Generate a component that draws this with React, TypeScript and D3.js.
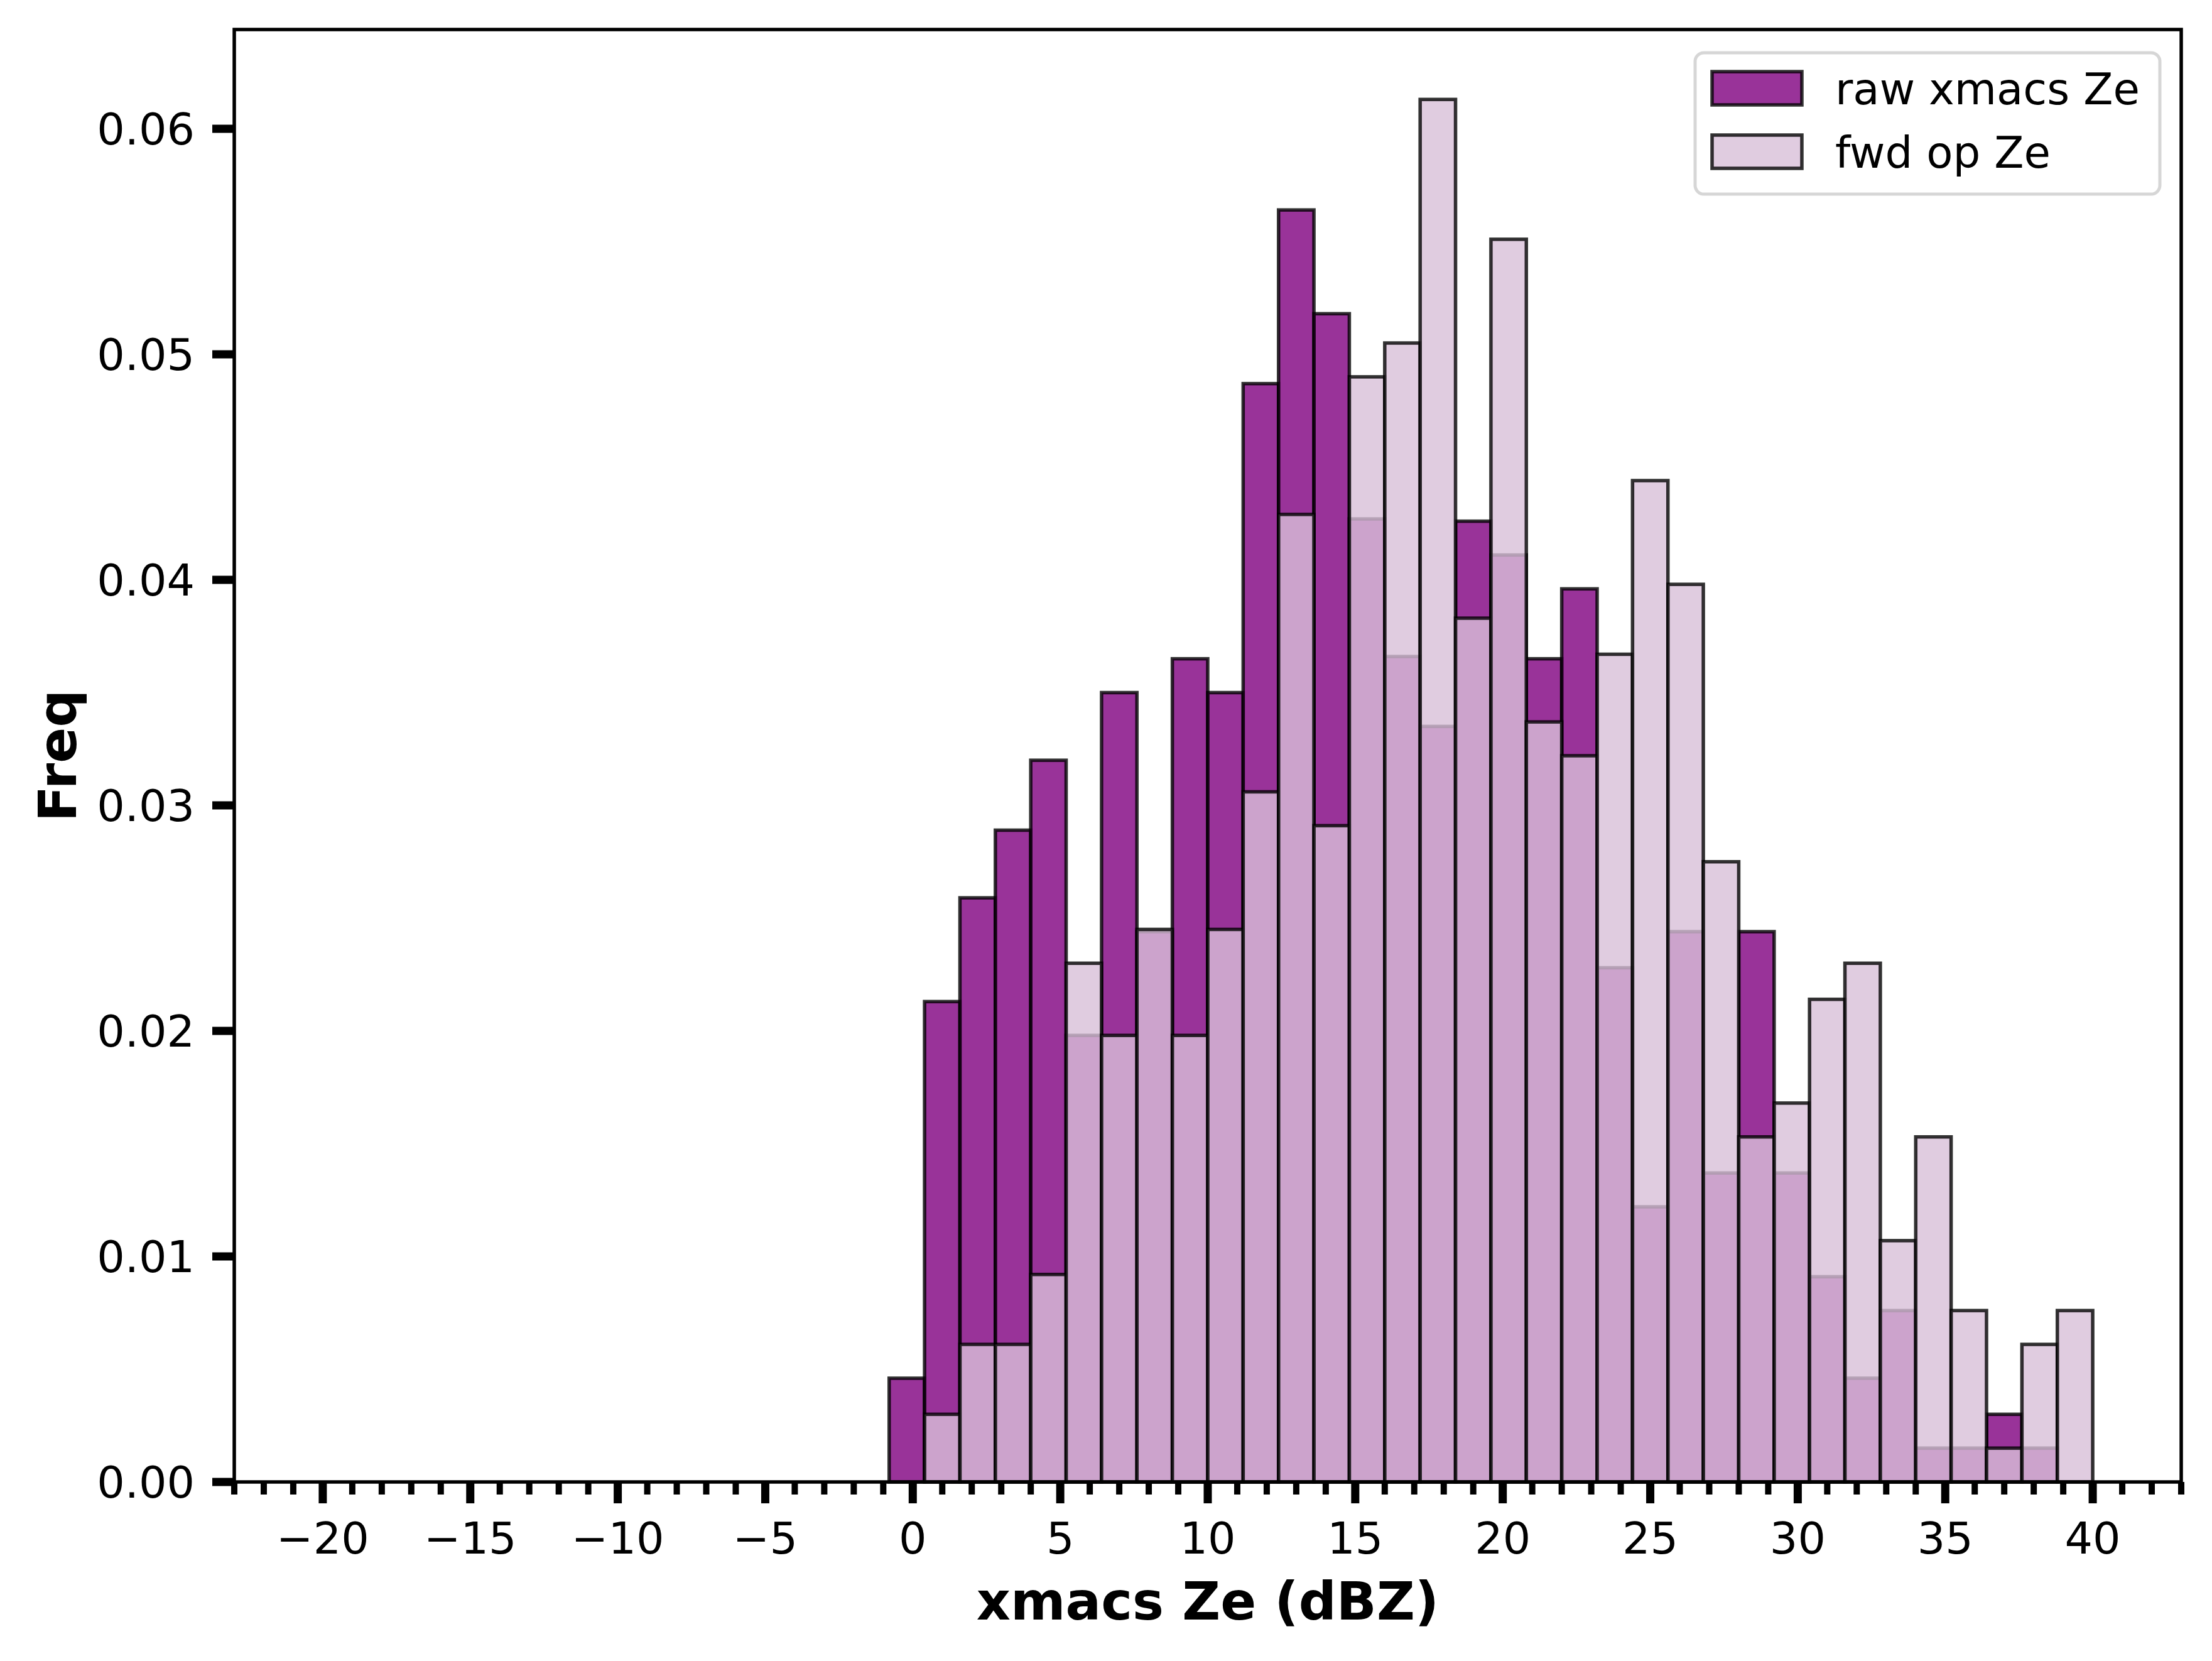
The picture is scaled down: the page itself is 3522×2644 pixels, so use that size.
import * as d3 from "d3";

// histogram bin edges (dBZ), shared by both series
const binEdges = [
  -0.8, 0.4, 1.6, 2.8, 4.0, 5.2, 6.4, 7.6, 8.8, 10.0, 11.2, 12.4, 13.6, 14.8, 16.0, 17.2, 18.4,
  19.6, 20.8, 22.0, 23.2, 24.4, 25.6, 26.8, 28.0, 29.2, 30.4, 31.6, 32.8, 34.0, 35.2, 36.4, 37.6,
  38.8, 40.0,
];

// density per bin
const rawFreq = [
  0.0046, 0.0213, 0.0259, 0.0289, 0.032, 0.0198, 0.035, 0.0244, 0.0365, 0.035, 0.0487, 0.0564,
  0.0518, 0.0427, 0.0366, 0.0335, 0.0426, 0.0411, 0.0365, 0.0396, 0.0228, 0.0122, 0.0244, 0.0137,
  0.0244, 0.0137, 0.0091, 0.0046, 0.0076, 0.0015, 0.0015, 0.003, 0.0015, 0,
];
const fwdFreq = [
  0, 0.003, 0.0061, 0.0061, 0.0092, 0.023, 0.0198, 0.0245, 0.0198, 0.0245, 0.0306, 0.0429, 0.0291,
  0.049, 0.0505, 0.0613, 0.0383, 0.0551, 0.0337, 0.0322, 0.0367, 0.0444, 0.0398, 0.0275, 0.0153,
  0.0168, 0.0214, 0.023, 0.0107, 0.0153, 0.0076, 0.0015, 0.0061, 0.0076,
];

const series = [
  { name: "raw xmacs Ze", values: rawFreq, fill: "purple" },
  { name: "fwd op Ze", values: fwdFreq, fill: "thistle" },
];

const xTicks = [-20, -15, -10, -5, 0, 5, 10, 15, 20, 25, 30, 35, 40];
const yTicks = [0, 0.01, 0.02, 0.03, 0.04, 0.05, 0.06];

const W = 3522, H = 2644;
const M = { left: 373, right: 3473, top: 47, bottom: 2359 };
const FONT = "DejaVu Sans";

export default function App() {
  const x = d3.scaleLinear().domain([-23, 43]).range([M.left, M.right]);
  const y = d3.scaleLinear().domain([0, 0.0644]).range([M.bottom, M.top]);
  const minor = d3.range(-23, 44).filter((v) => v % 5 !== 0);
  const fy = d3.format(".2f");

  return (
    <svg width={W} height={H} viewBox={`0 0 ${W} ${H}`}
      style={{ position: "absolute", left: 0, top: 0, background: "#fff" }} fontFamily={FONT}>
      <rect x={0} y={0} width={W} height={H} fill="#fff" />

      {series.map((s) => (
        <g key={s.name}>
          {s.values.map((v, i) => (
            <rect key={i} x={x(binEdges[i])} width={x(binEdges[i + 1]) - x(binEdges[i])}
              y={y(v)} height={y(0) - y(v)}
              fill={s.fill} fillOpacity={0.8} stroke="#000" strokeOpacity={0.8} strokeWidth={5.5} />
          ))}
        </g>
      ))}

      {/* frame */}
      <rect x={M.left} y={M.top} width={M.right - M.left} height={M.bottom - M.top}
        fill="none" stroke="#000" strokeWidth={5.5} />

      {/* x ticks */}
      {minor.map((v) => (
        <line key={"m" + v} x1={x(v)} x2={x(v)} y1={M.bottom} y2={M.bottom + 20} stroke="#000" strokeWidth={10} />
      ))}
      {xTicks.map((v) => (
        <g key={"x" + v}>
          <line x1={x(v)} x2={x(v)} y1={M.bottom} y2={M.bottom + 34} stroke="#000" strokeWidth={13} />
          <text x={x(v)} y={2473} textAnchor="middle" fontSize={70}>{d3.format("d")(v)}</text>
        </g>
      ))}

      {/* y ticks */}
      {yTicks.map((v) => (
        <g key={"y" + v}>
          <line x1={M.left - 35} x2={M.left} y1={y(v)} y2={y(v)} stroke="#000" strokeWidth={13} />
          <text x={310} y={y(v)} dy="0.36em" textAnchor="end" fontSize={70}>{fy(v)}</text>
        </g>
      ))}

      <text x={(M.left + M.right) / 2} y={2578} textAnchor="middle" fontSize={84} fontWeight="bold">
        xmacs Ze (dBZ)
      </text>
      <text transform={`translate(121,${(M.top + M.bottom) / 2}) rotate(-90)`} textAnchor="middle"
        fontSize={84} fontWeight="bold">Freq</text>

      {/* legend */}
      <g>
        <rect x={2699} y={84} width={740} height={225} rx={14} fill="#fff" fillOpacity={0.8}
          stroke="#ccc" strokeOpacity={0.8} strokeWidth={5} />
        {series.map((s, i) => (
          <g key={s.name} transform={`translate(0,${i * 101})`}>
            <rect x={2726} y={114} width={143} height={53} fill={s.fill} fillOpacity={0.8}
              stroke="#000" strokeOpacity={0.8} strokeWidth={5.5} />
            <text x={2922} y={166} fontSize={69}>{s.name}</text>
          </g>
        ))}
      </g>
    </svg>
  );
}
